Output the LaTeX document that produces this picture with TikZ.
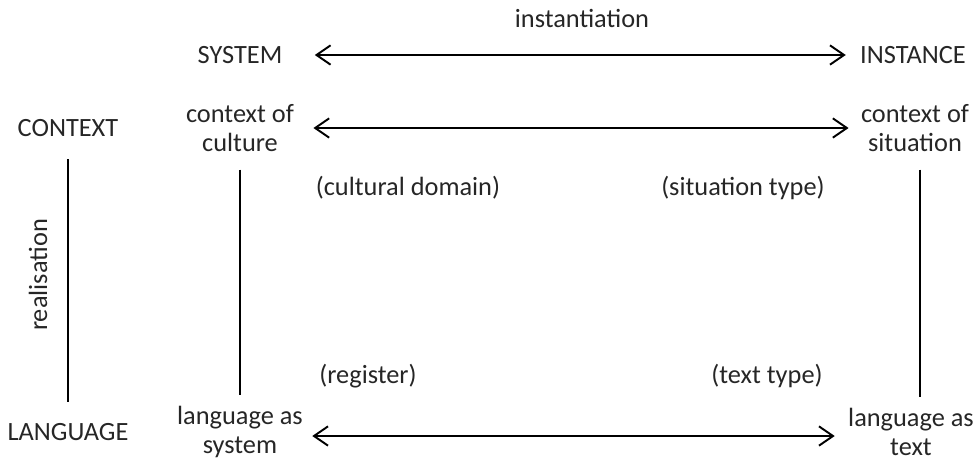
\documentclass[tikz,border=0pt]{standalone}
\usepackage{fontspec}
\setmainfont{Carlito}
\usetikzlibrary{arrows.meta}

\begin{document}
\begin{tikzpicture}[x=0.02cm,y=-0.02cm,line width=1.1pt,
    every node/.style={font=\fontsize{15}{17}\selectfont,align=center,inner sep=2pt,text=black!85},
    inst/.style={{Straight Barb[length=8pt,width=11pt]}-{Straight Barb[length=8pt,width=11pt]}}]
  \useasboundingbox (0,0) rectangle (977,464);
  \node (instlab) at (582,18) {instantiation};
  \node (sys) at (240,55) {SYSTEM};
  \node (inst) at (913,55) {INSTANCE};
  \node (ctx) at (68,128) {CONTEXT};
  \node (cult) at (240,128) {context of\\culture};
  \node (sit) at (915,128) {context of\\situation};
  \node (dom) at (408,188) {(cultural domain)};
  \node (stype) at (743,188) {(situation type)};
  \node (reg) at (368,376) {(register)};
  \node (ttype) at (767,376) {(text type)};
  \node (lang) at (68,432) {LANGUAGE};
  \node (lsys) at (240,432) {language as\\system};
  \node (ltext) at (911,432) {language as\\text};
  \node[rotate=90] (real) at (38,275) {realisation};
  % instantiation arrows
  \draw[inst,shorten <=0.56cm,shorten >=0.2cm] (sys) -- (inst);
  \draw[inst,shorten <=0.3cm,shorten >=0.16cm] (cult) -- (sit);
  \draw[inst,shorten <=0.1cm,shorten >=0.18cm] (lsys.east|-0,436) -- (ltext.west|-0,436);
  % realisation lines
  \draw[line width=0.9pt,shorten <=0.36cm,shorten >=0.34cm] (ctx) -- (lang);
  \draw[line width=0.9pt,shorten <=0.26cm,shorten >=0.12cm] (cult) -- (lsys);
  \draw[line width=0.9pt,shorten <=0.26cm,shorten >=0.12cm] (sit.south-|920,0) -- (ltext.north-|920,0);
\end{tikzpicture}
\end{document}
